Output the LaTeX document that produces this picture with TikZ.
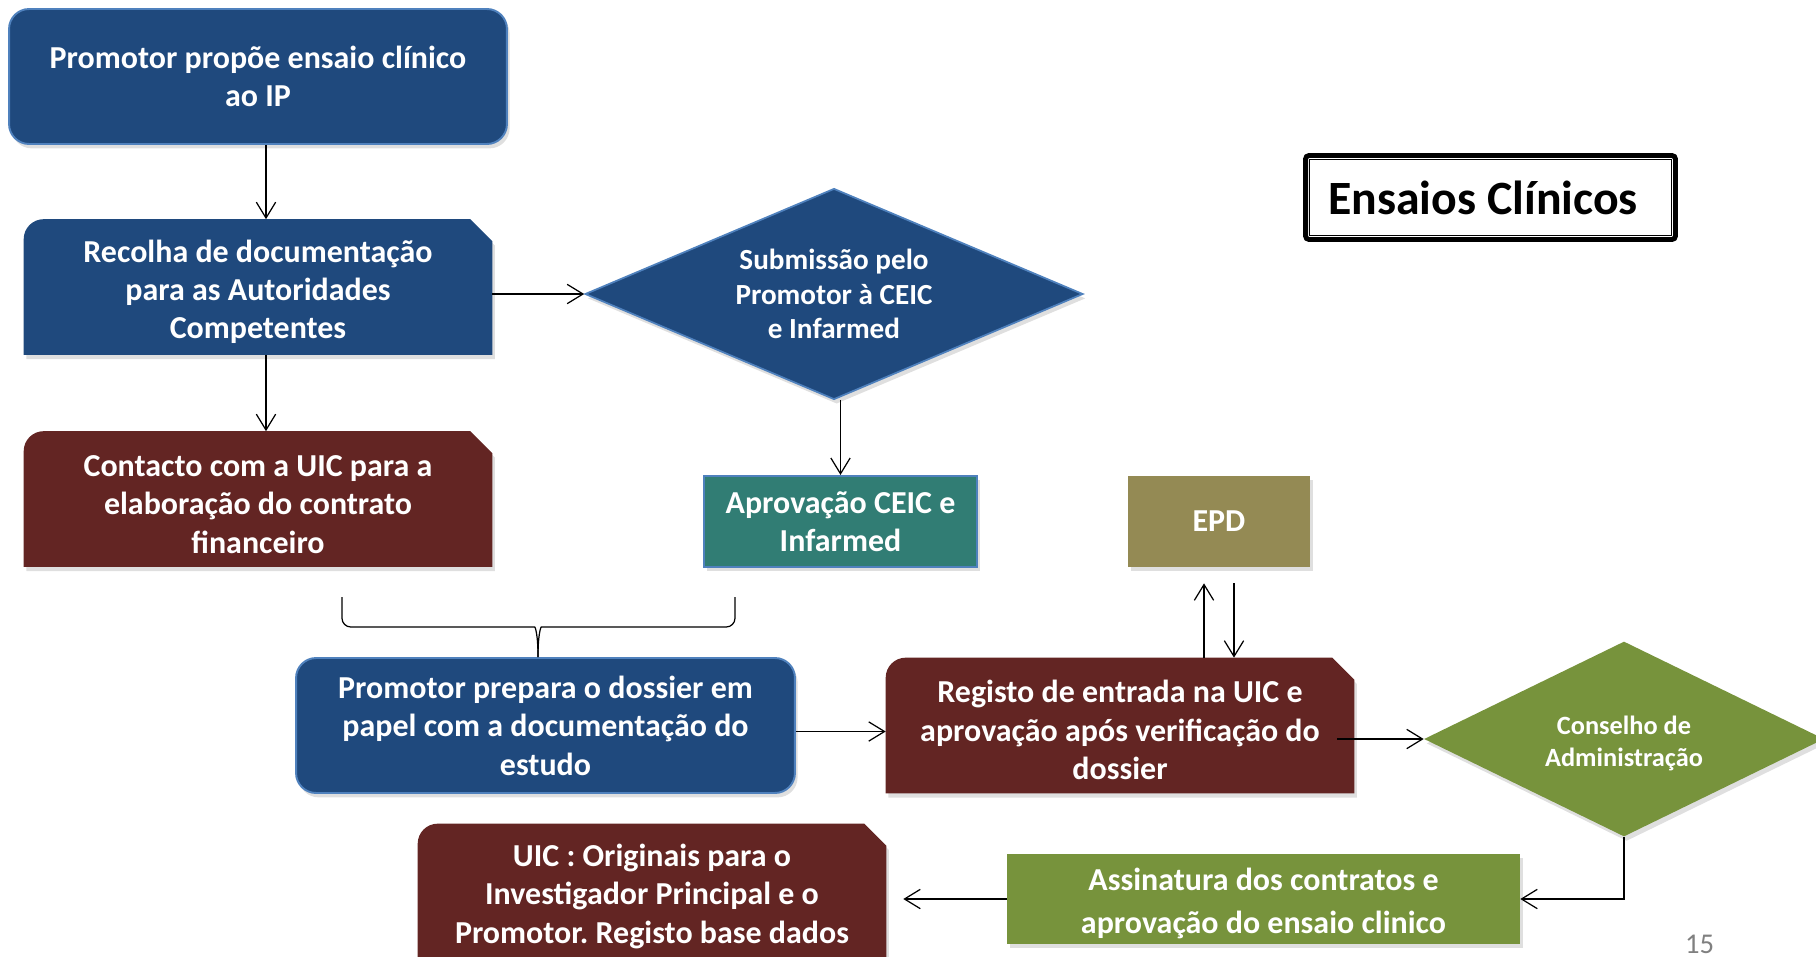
\documentclass[tikz,border=0pt]{standalone}
\usepackage{fontspec}
\setmainfont{Carlito}
\usetikzlibrary{arrows.meta,positioning,calc,shapes.geometric,shadows,backgrounds}

\definecolor{docblue}{RGB}{31,73,125}
\definecolor{edgeblue}{RGB}{79,129,189}
\definecolor{uicred}{RGB}{99,37,35}
\definecolor{ceicteal}{RGB}{49,125,116}
\definecolor{epdolive}{RGB}{148,138,84}
\definecolor{cagreen}{RGB}{119,147,60}

\tikzset{
  boxtext/.style={text=white, font=\bfseries\fontsize{18.2}{21.9}\selectfont, align=center, inner sep=0pt},
  lowtext/.style={text height=#1},
  boxshadow/.style={drop shadow={shadow xshift=1.5pt, shadow yshift=-2.5pt, opacity=0.25}},
  roundbox/.style={boxtext, rectangle, rounded corners=0.4cm, fill=docblue, draw=edgeblue, line width=1.1pt, boxshadow},
  snipbox/.style={boxtext, lowtext=62pt, minimum width=9.36cm, minimum height=2.7cm},
  flatbox/.style={boxtext, rectangle, boxshadow},
  decision/.style={boxtext, diamond, boxshadow},
  arr/.style={draw, line width=0.7pt, -{Straight Barb[length=9pt,width=11pt]}},
}

\begin{document}
\begin{tikzpicture}[x=0.02cm, y=-0.02cm]
        \useasboundingbox (0,0) rectangle (1816,957);

        \node[roundbox, minimum width=9.96cm, minimum height=2.7cm] (promotor) at (258,76.5) {Promotor propõe ensaio clínico\\ao IP};
        \node[snipbox] (recolha) at (258,287) {Recolha de documentação\\para as Autoridades\\Competentes};
        \node[snipbox] (contacto) at (258,499) {Contacto com a UIC para a\\elaboração do contrato\\financeiro};
        \node[decision, fill=docblue, draw=edgeblue, line width=1pt, minimum width=9.96cm, minimum height=4.22cm, aspect=2.36,
              font=\bfseries\fontsize{16.6}{19.7}\selectfont] (submissao) at (834,294) {Submissão pelo\\Promotor à CEIC\\e Infarmed};
        \node[flatbox, fill=ceicteal, draw=edgeblue, line width=1.2pt, minimum width=5.46cm, minimum height=1.82cm] (aprovacao) at (840.5,521.5) {Aprovação CEIC e\\Infarmed};
        \node[flatbox, fill=epdolive, minimum width=3.64cm, minimum height=1.82cm] (epd) at (1219,521.5) {EPD};
        \node[roundbox, minimum width=9.98cm, minimum height=2.7cm] (prepara) at (545.5,725.5) {Promotor prepara o dossier em\\papel com a documentação do\\estudo};
        \node[snipbox] (registo) at (1120,725.5) {Registo de entrada na UIC e\\aprovação após verificação do\\dossier};
        \node[decision, fill=cagreen, minimum width=8cm, minimum height=3.9cm, aspect=2.05, lowtext=34pt,
              font=\bfseries\fontsize{15}{18.4}\selectfont] (conselho) at (1624,739) {Conselho de\\Administração};
        \node[flatbox, fill=cagreen, minimum width=10.26cm, minimum height=1.8cm, lowtext=42.4pt,
              font=\bfseries\fontsize{18.2}{24.5}\selectfont] (assinatura) at (1263.5,899) {Assinatura dos contratos e\\aprovação do ensaio clinico};
        \node[snipbox] (originais) at (652,891.5) {UIC : Originais para o\\Investigador Principal e o\\Promotor.\ Registo base dados};

        % titulo com moldura dupla
        \node[draw, line width=2.8pt, rounded corners=2pt, minimum width=7.4cm, minimum height=1.68cm,
              font=\bfseries\fontsize{27.2}{32}\selectfont] (titulo) at (1490.5,197.5) {Ensaios Clínicos\hspace*{0.3cm}};
        \draw[line width=0.8pt] ([shift={(0.13cm,-0.13cm)}]titulo.north west) rectangle ([shift={(-0.13cm,0.13cm)}]titulo.south east);

        \node[font=\fontsize{16.3}{19}\selectfont, text=gray, anchor=base, inner sep=0pt] (pagina) at (1699.5,953) {15};

        % caixas com canto cortado
        \begin{scope}[on background layer]
                \foreach \nome/\cor in {recolha/docblue, contacto/uicred, registo/uicred, originais/uicred}{
                        \fill[\cor, boxshadow] (\nome.south west) -- ([yshift=-0.4cm]\nome.north west)
                                arc[start angle=180, end angle=90, radius=0.4cm] -- ([xshift=-0.44cm]\nome.north east)
                                -- ([yshift=-0.44cm]\nome.north east) -- (\nome.south east) -- cycle;
                }
        \end{scope}

        \draw[arr] ([xshift=0.16cm]promotor.south) -- ([xshift=0.16cm]recolha.north);
        \draw[arr] ([xshift=0.16cm]recolha.south) -- ([xshift=0.16cm]contacto.north);
        \draw[arr] (recolha.east |- submissao.west) -- (submissao.west);
        \draw[arr] (aprovacao.north |- submissao.south) -- (aprovacao.north);

        % chaveta
        \coordinate (chave) at (538,657);
        \draw[line width=0.7pt, rounded corners=5pt] (342,597) -- (342,627) -- (526,627) .. controls (535,627) and (538,633) .. (chave);
        \draw[line width=0.7pt, rounded corners=5pt] (735,597) -- (735,627) -- (550,627) .. controls (541,627) and (538,633) .. (chave);

        \draw[arr] ([yshift=-0.12cm]prepara.east) -- ([yshift=-0.12cm]registo.west);
        \draw[arr] ([xshift=-0.3cm]epd.south |- registo.north) -- ([xshift=-0.3cm,yshift=-0.32cm]epd.south);
        \draw[arr] ([xshift=0.3cm,yshift=-0.32cm]epd.south) -- ([xshift=0.3cm]epd.south |- registo.north);
        \draw[arr] ([xshift=-0.34cm]registo.east |- conselho.west) -- (conselho.west);
        \draw[arr] (conselho.south) |- (assinatura.east);
        \draw[arr, shorten >=0.34cm] (assinatura.west) -- (assinatura.west -| originais.east);

\end{tikzpicture}
\end{document}
